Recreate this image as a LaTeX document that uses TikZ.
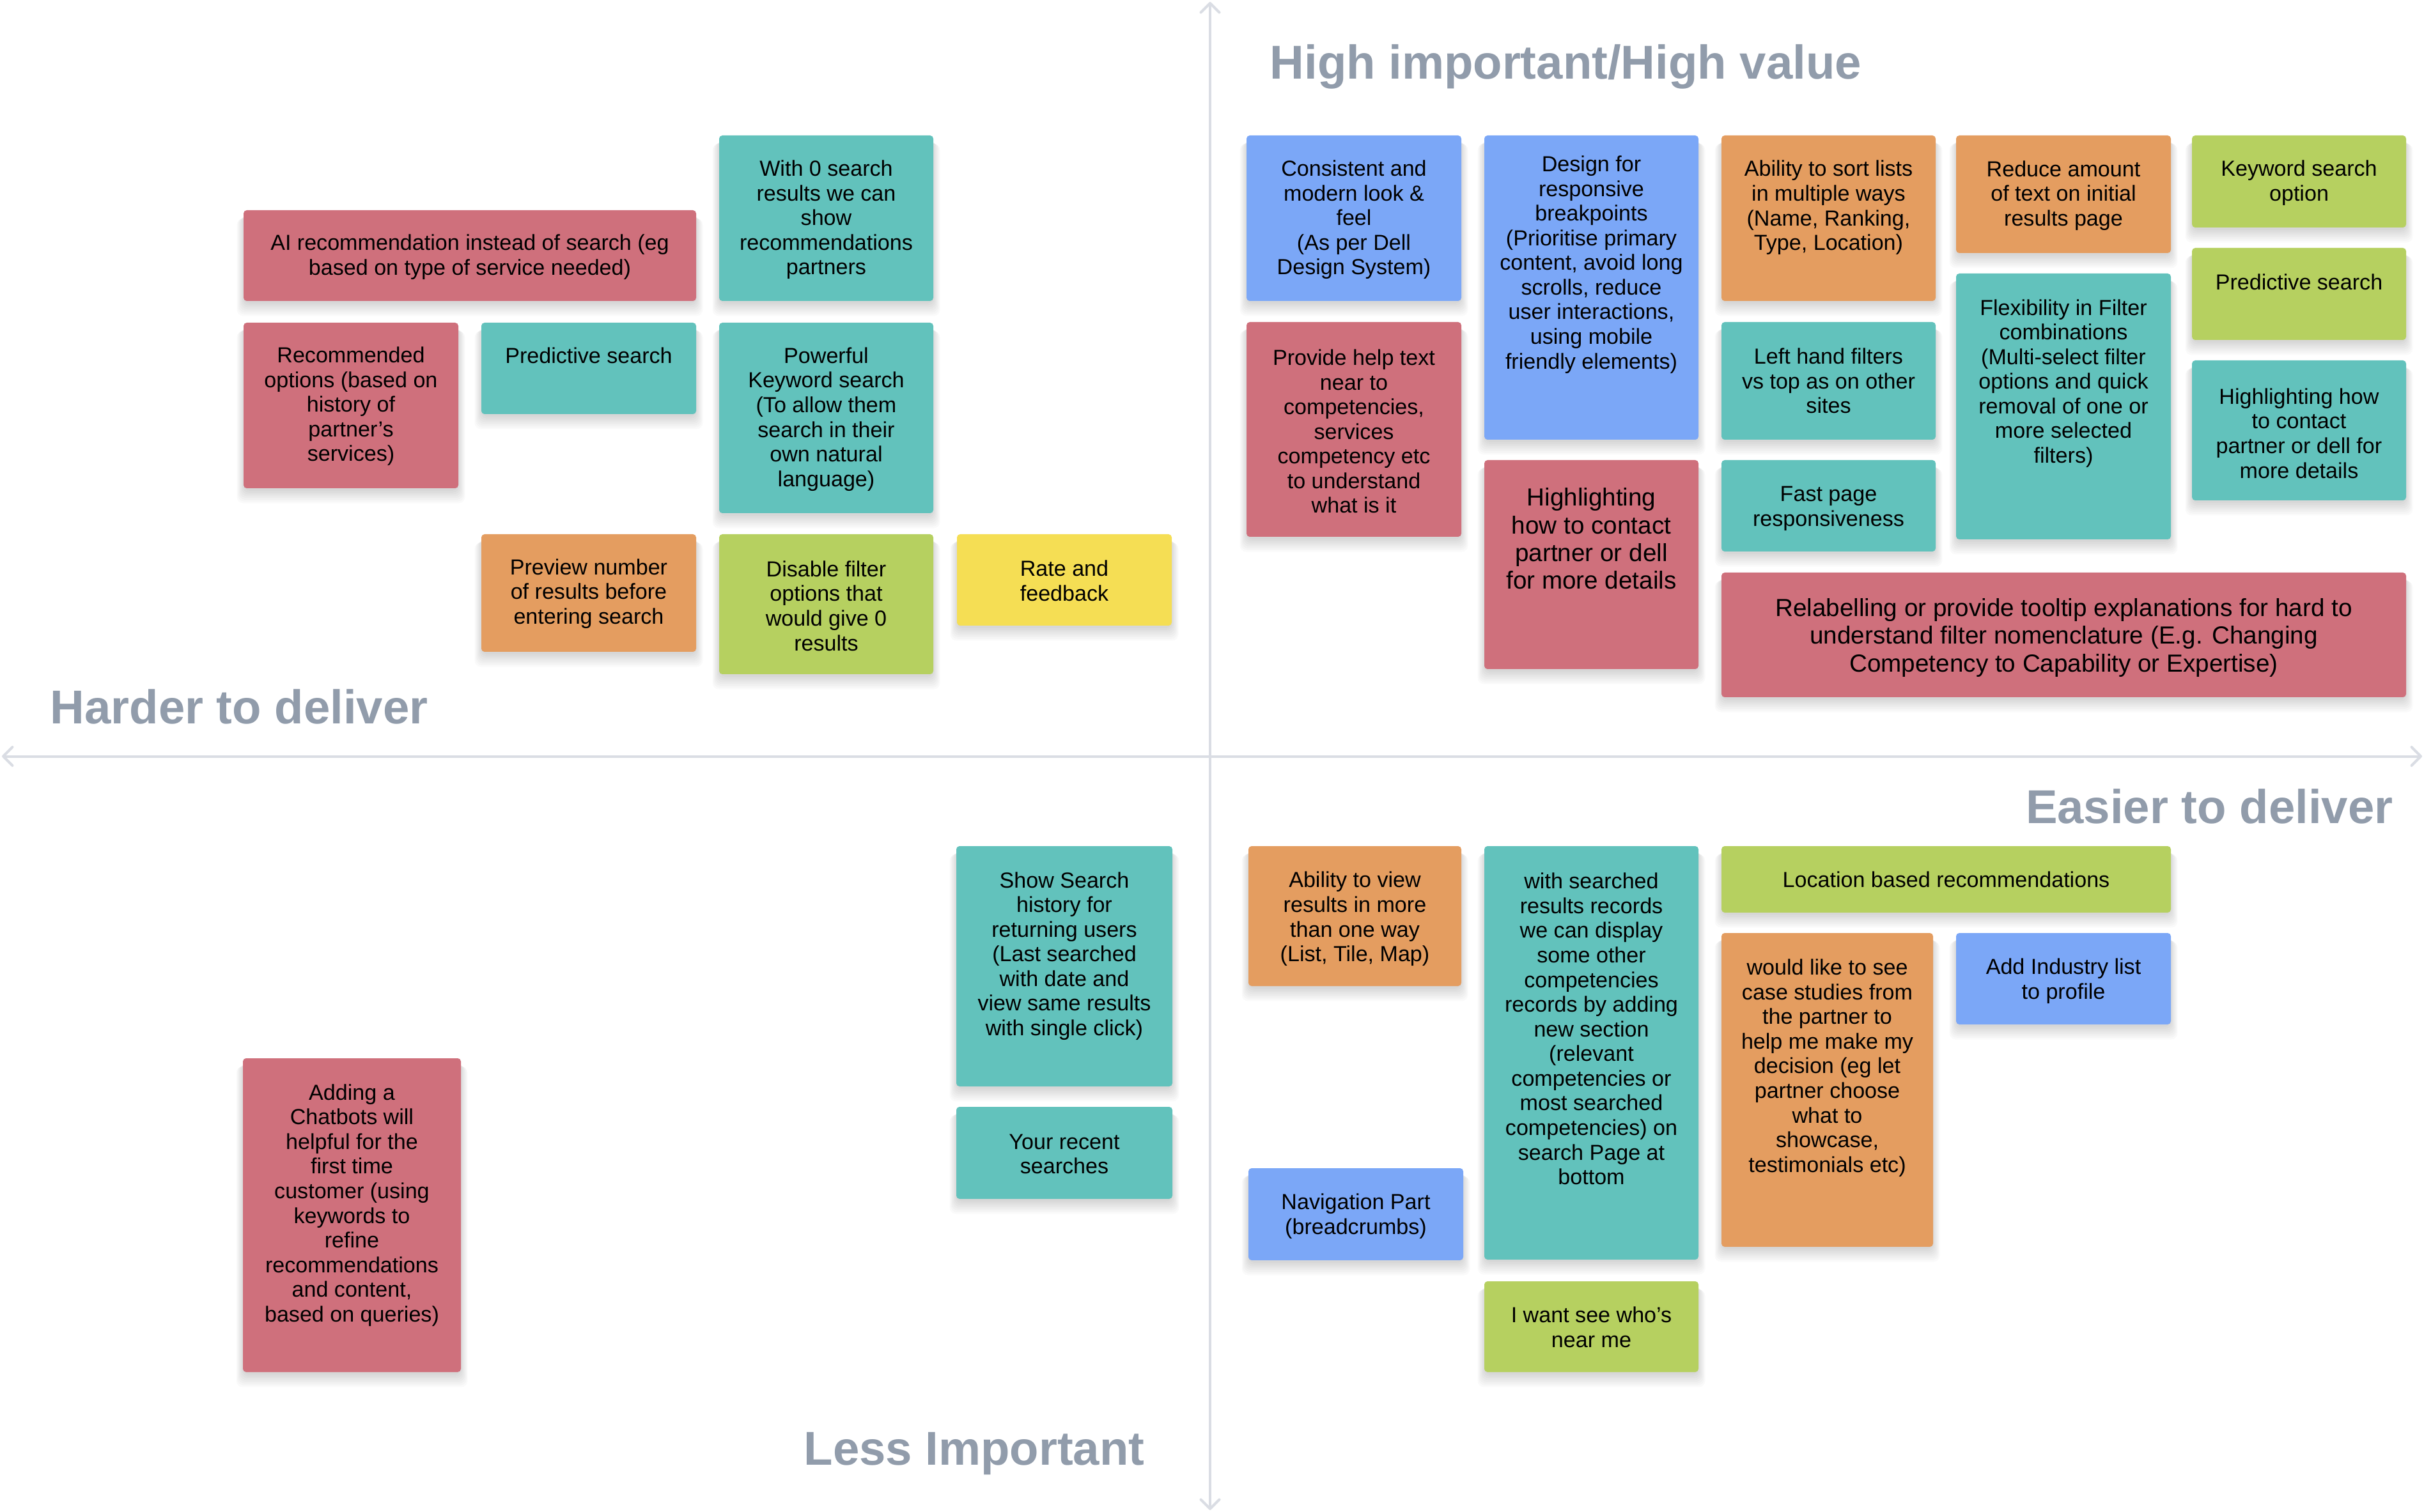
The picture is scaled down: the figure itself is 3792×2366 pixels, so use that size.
\documentclass[tikz,border=0pt]{standalone}
\usepackage{fontspec}
\setmainfont{Liberation Sans}
\usetikzlibrary{arrows.meta}

% sticky note palette
\definecolor{stickypink}{HTML}{CF707C}
\definecolor{stickyteal}{HTML}{62C2BC}
\definecolor{stickyorange}{HTML}{E49D60}
\definecolor{stickygreen}{HTML}{B6D060}
\definecolor{stickyblue}{HTML}{7BA7F7}
\definecolor{stickyyellow}{HTML}{F5DE54}
\definecolor{quadgray}{HTML}{919CAB}
\definecolor{axisgray}{HTML}{DADDE4}

\newcommand\stickyfont{\fontsize{9.7pt}{10.98pt}\selectfont}
\newcommand\stickybigfont{\fontsize{11pt}{12.35pt}\selectfont}
\newcommand\quadfont{\fontsize{21.15pt}{24pt}\selectfont\bfseries}

\tikzset{
  stickybox/.style={rounded corners=0.5mm, inner sep=0pt, draw=none},
  stickytext/.style={align=center, inner sep=0pt, font=\stickyfont, text=black},
  stickybig/.style={stickytext, font=\stickybigfont},
  quadlabel/.style={inner sep=0pt, font=\quadfont, text=quadgray},
  axis/.style={draw=axisgray, line width=0.4mm, line cap=round,
    {Straight Barb[length=1.45mm, width=2.9mm, line cap=round, line join=round]}-{Straight Barb[length=1.45mm, width=2.9mm, line cap=round, line join=round]}},
}

% soft shadow under a note: stacked translucent rectangles
\newcommand\noteshadow[4]{%
  \foreach \k in {0,...,7}{%
    \fill[black, opacity=0.02, rounded corners=1mm]
      ({#1-1.5*\k},{#2+6+\k}) rectangle ({#3+1.5*\k},{#4+4+2.8*\k});
  }%
}

% name, x1, y1, x2, y2, colour, text centre y, text style, text
\newcommand\sticky[9]{%
  \noteshadow{#2}{#3}{#4}{#5}
  \node[stickybox, fill=#6, minimum width={(#4-#2)*0.1mm}, minimum height={(#5-#3)*0.1mm}]
    (#1) at ({(#2+#4)/2},{(#3+#5)/2}) {};
  \node[#8] (#1-text) at ({(#2+#4)/2},#7) {#9};
}

\begin{document}
\begin{tikzpicture}[x=0.1mm, y=-0.1mm]
\fill[white] (0,0) rectangle (3792,2366);
\useasboundingbox (0,0) rectangle (3792,2366);

% axes
\coordinate (axtop) at (1893,3);
\coordinate (axbottom) at (1893,2363);
\coordinate (axleft) at (3,1183.5);
\coordinate (axright) at (3789,1183.5);
\draw[axis] (axleft) -- (axright);
\draw[axis] (axtop) -- (axbottom);

% quadrant labels
\node[quadlabel, anchor=base west] (lblhigh) at (1986,124) {High important/High value};
\node[quadlabel, anchor=base west] (lblharder) at (78,1133) {Harder to deliver};
\node[quadlabel, anchor=base east] (lbleasier) at (3744,1288) {Easier to deliver};
\node[quadlabel, anchor=base west] (lblless) at (1257,2292) {Less Important};

% upper left
\sticky{ai}{381}{329}{1089}{471}{stickypink}{402}{stickytext}{AI recommendation instead of search (eg\\based on type of service needed)}
\sticky{zero}{1125}{212}{1460}{471}{stickyteal}{344}{stickytext}{With 0 search\\results we can\\show\\recommendations\\partners}
\sticky{recopt}{381}{505}{717}{764}{stickypink}{636}{stickytext}{Recommended\\options (based on\\history of\\partner’s\\services)}
\sticky{predl}{753}{505}{1089}{648}{stickyteal}{556}{stickytext}{Predictive search}
\sticky{powerful}{1125}{505}{1460}{803}{stickyteal}{656}{stickytext}{Powerful\\Keyword search\\(To allow them\\search in their\\own natural\\language)}
\sticky{preview}{753}{836}{1089}{1020}{stickyorange}{929}{stickytext}{Preview number\\of results before\\entering search}
\sticky{disable}{1125}{836}{1460}{1055}{stickygreen}{948}{stickytext}{Disable filter\\options that\\would give 0\\results}
\sticky{rate}{1497}{836}{1833}{979}{stickyyellow}{909}{stickytext}{Rate and\\feedback}

% upper right
\sticky{consistent}{1950}{212}{2286}{471}{stickyblue}{344}{stickytext}{Consistent and\\modern look \&\\feel\\(As per Dell\\Design System)}
\sticky{design}{2322}{212}{2657}{688}{stickyblue}{414}{stickytext}{Design for\\responsive\\breakpoints\\(Prioritise primary\\content, avoid long\\scrolls, reduce\\user interactions,\\using mobile\\friendly elements)}
\sticky{sort}{2693}{212}{3028}{471}{stickyorange}{325}{stickytext}{Ability to sort lists\\in multiple ways\\(Name, Ranking,\\Type, Location)}
\sticky{reduce}{3060}{212}{3396}{396}{stickyorange}{306}{stickytext}{Reduce amount\\of text on initial\\results page}
\sticky{keyword}{3429}{212}{3764}{356}{stickygreen}{286}{stickytext}{Keyword search\\option}
\sticky{predr}{3429}{388}{3764}{532}{stickygreen}{441}{stickytext}{Predictive search}
\sticky{flex}{3060}{428}{3396}{844}{stickyteal}{600}{stickytext}{Flexibility in Filter\\combinations\\(Multi-select filter\\options and quick\\removal of one or\\more selected\\filters)}
\sticky{contactr}{3429}{564}{3764}{783}{stickyteal}{678}{stickytext}{Highlighting how\\to contact\\partner or dell for\\more details}
\sticky{helptext}{1950}{504}{2286}{840}{stickypink}{675}{stickytext}{Provide help text\\near to\\competencies,\\services\\competency etc\\to understand\\what is it}
\sticky{lefthand}{2693}{504}{3028}{688}{stickyteal}{596}{stickytext}{Left hand filters\\vs top as on other\\sites}
\sticky{contactc}{2322}{720}{2657}{1047}{stickypink}{843}{stickybig}{Highlighting\\how to contact\\partner or dell\\for more details}
\sticky{fastpage}{2693}{720}{3028}{863}{stickyteal}{796}{stickytext}{Fast page\\responsiveness}
\sticky{relabel}{2693}{896}{3764}{1091}{stickypink}{998}{stickybig}{Relabelling or provide tooltip explanations for hard to\\understand filter nomenclature (E.g. Changing\\Competency to Capability or Expertise)}

% lower right
\sticky{viewways}{1953}{1324}{2286}{1543}{stickyorange}{1438}{stickytext}{Ability to view\\results in more\\than one way\\(List, Tile, Map)}
\sticky{searched}{2322}{1324}{2657}{1971}{stickyteal}{1610}{stickytext}{with searched\\results records\\we can display\\some other\\competencies\\records by adding\\new section\\(relevant\\competencies or\\most searched\\competencies) on\\search Page at\\bottom}
\sticky{location}{2693}{1324}{3396}{1428}{stickygreen}{1376}{stickytext}{Location based recommendations}
\sticky{casestudies}{2693}{1460}{3024}{1951}{stickyorange}{1671}{stickytext}{would like to see\\case studies from\\the partner to\\help me make my\\decision (eg let\\partner choose\\what to\\showcase,\\testimonials etc)}
\sticky{industry}{3060}{1460}{3396}{1603}{stickyblue}{1535}{stickytext}{Add Industry list\\to profile}
\sticky{navigation}{1953}{1828}{2289}{1972}{stickyblue}{1903}{stickytext}{Navigation Part\\(breadcrumbs)}
\sticky{nearme}{2322}{2005}{2657}{2147}{stickygreen}{2077}{stickytext}{I want see who's\\near me}

% lower left
\sticky{history}{1496}{1324}{1834}{1700}{stickyteal}{1496}{stickytext}{Show Search\\history for\\returning users\\(Last searched\\with date and\\view same results\\with single click)}
\sticky{recent}{1496}{1732}{1834}{1876}{stickyteal}{1806}{stickytext}{Your recent\\searches}
\sticky{chatbot}{380}{1656}{721}{2147}{stickypink}{1886}{stickytext}{Adding a\\Chatbots will\\helpful for the\\first time\\customer (using\\keywords to\\refine\\recommendations\\and content,\\based on queries)}
\end{tikzpicture}
\end{document}
